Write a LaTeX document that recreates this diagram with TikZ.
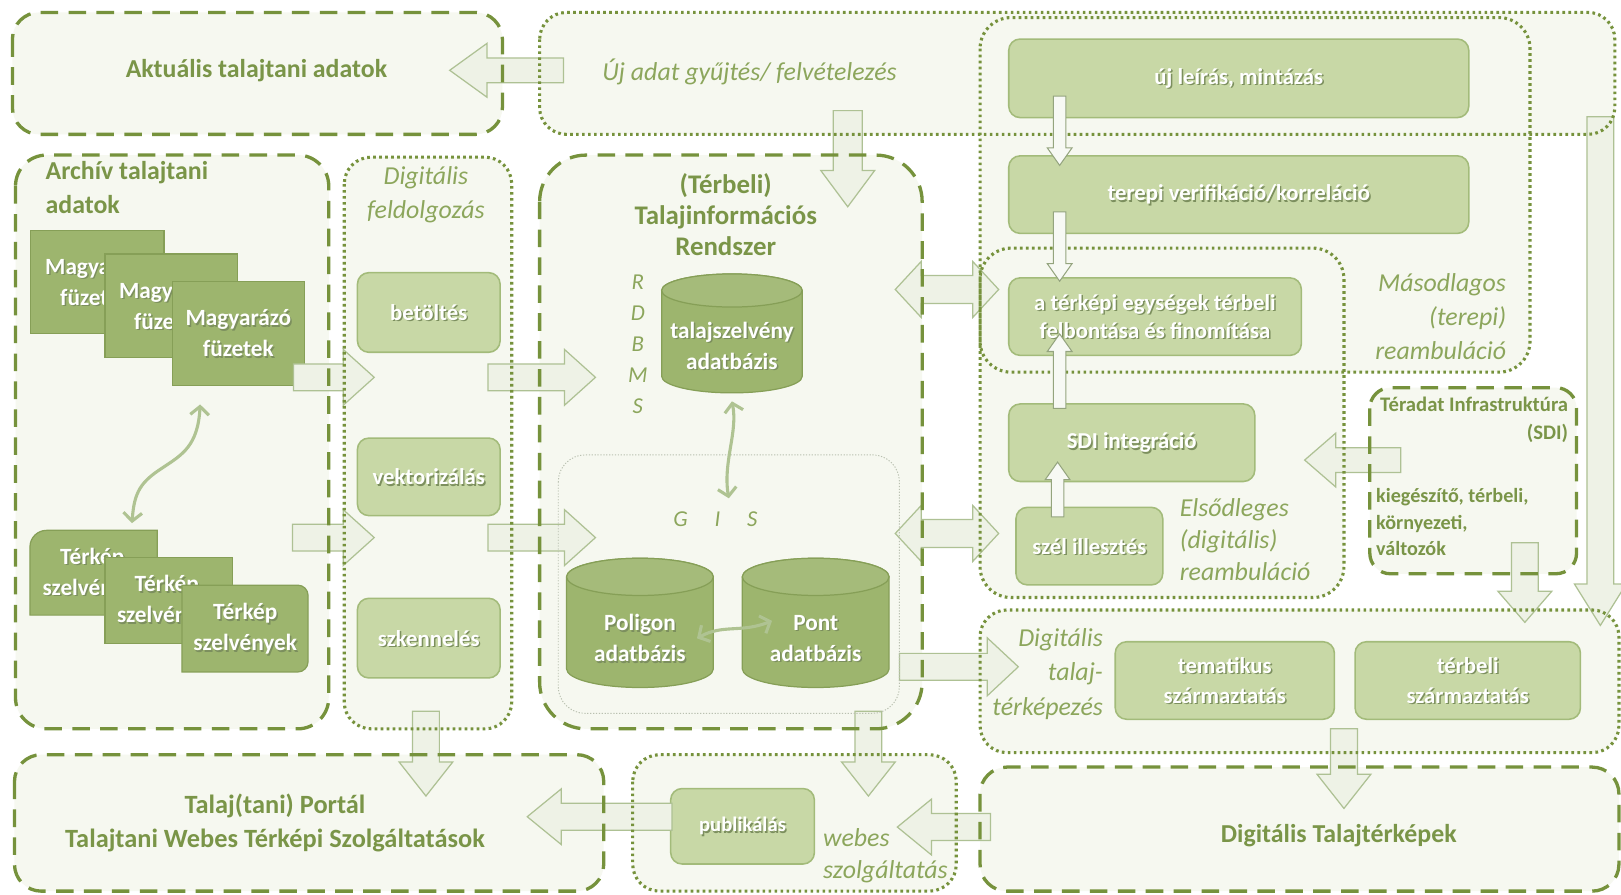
\documentclass[tikz,border=0pt]{standalone}
\usepackage{fontspec}
\setmainfont{Carlito}
\usetikzlibrary{arrows.meta}
\definecolor{dk}{HTML}{76923C}
\definecolor{ttl}{HTML}{7A9548}
\definecolor{itl}{HTML}{8CA65C}
\definecolor{bgc}{HTML}{FFFFFF}
\definecolor{cf}{HTML}{F6F8F0}
\definecolor{lbf}{HTML}{C8D8A6}
\definecolor{lbd}{HTML}{A3BB7A}
\definecolor{dbf}{HTML}{9DB56E}
\definecolor{dbd}{HTML}{869F57}
\definecolor{af}{HTML}{EEF2E6}
\definecolor{ad}{HTML}{AEC194}
\definecolor{cv}{HTML}{AFC392}
\definecolor{shd}{HTML}{7C8F5E}
\definecolor{gisd}{HTML}{B9C0B0}
\newcommand\region[6]{\node[fill=cf,inner sep=0,outer sep=0,rounded corners=#6,anchor=north west,minimum width={#4-#2},minimum height={#5-#3}] (#1) at (#2,#3) {};}
\newcommand\bx[6]{\node[#6,anchor=north west,minimum width={#4-#2},minimum height={#5-#3}] (#1) at (#2,#3) {};}
\newcommand\wtxt[4][]{%
 \node[wlab,text=shd,#1] (#2s) at ([shift={(1.4pt,-1.4pt)}]#3) {#4};
 \node[wlab,#1] (#2) at (#3) {#4};}
\newcommand\btxt[4]{% name x baseline-y text (partly hidden back-box words)
 \node[wlab,dlab,text=shd,anchor=base west] (#1s) at ([shift={(1.4pt,-1.4pt)}]#2,#3) {#4};
 \node[wlab,dlab,anchor=base west] (#1) at (#2,#3) {#4};}
\newcommand\harr[7]{%
 \pgfmathsetmacro\xb{#2-((#2>#1)?1:-1)*#6}%
 \draw[#7] (#1,#3-#4) -- (\xb,#3-#4) -- (\xb,#3-#5) -- (#2,#3) -- (\xb,#3+#5) -- (\xb,#3+#4) -- (#1,#3+#4) -- cycle;}
\newcommand\varr[7]{%
 \pgfmathsetmacro\yb{#3-((#3>#2)?1:-1)*#6}%
 \draw[#7] (#1-#4,#2) -- (#1-#4,\yb) -- (#1-#5,\yb) -- (#1,#3) -- (#1+#5,\yb) -- (#1+#4,\yb) -- (#1+#4,#2) -- cycle;}
\newcommand\dharr[7]{%
 \draw[#7] (#1,#3) -- (#1+#6,#3-#5) -- (#1+#6,#3-#4) -- (#2-#6,#3-#4) -- (#2-#6,#3-#5) -- (#2,#3) -- (#2-#6,#3+#5) -- (#2-#6,#3+#4) -- (#1+#6,#3+#4) -- (#1+#6,#3+#5) -- cycle;}
\newcommand\cyl[7]{% name x1 y1 x2 y2 ry text-shift
 \pgfmathsetmacro\cx{(#2+#4)/2}\pgfmathsetmacro\rx{(#4-#2)/2}%
 \draw[fill=dbf,draw=dbd,line width=1.2pt] (#2,#3+#6) -- (#2,#5-#6) arc[start angle=180,end angle=0,x radius=\rx,y radius=#6] -- (#4,#3+#6) arc[start angle=0,end angle=-180,x radius=\rx,y radius=#6] -- cycle;
 \draw[fill=dbf!92!white,draw=dbd,line width=1.2pt] (\cx,#3+#6) ellipse[x radius=\rx,y radius=#6];
 \node[inner sep=0,minimum width={#4-#2},minimum height={#5-#3}] (#1) at (\cx,{(#3+#5)/2}) {};
 \coordinate (#1t) at ([shift={(0,#7)}]#1.center);}
\begin{document}
\begin{tikzpicture}[x=1pt,y=-1pt,
 dashbox/.style={draw=dk,line width=3.2pt,dash pattern=on 17pt off 10pt,rounded corners=26pt},
 dotbox/.style={draw=dk,line width=3pt,dash pattern=on 2.6pt off 3.2pt,rounded corners=26pt},
 gisbox/.style={draw=gisd,line width=0.9pt,dash pattern=on 1.2pt off 1.6pt,rounded corners=26pt},
 lbox/.style={fill=lbf,draw=lbd,line width=1.5pt,rounded corners=11pt,inner sep=0},
 dbox/.style={fill=dbf,draw=dbd,line width=1.2pt,inner sep=0},
 dshape/.style={fill=dbf,draw=dbd,line width=1.2pt},
 wlab/.style={text=white,font=\bfseries\fontsize{22}{30}\selectfont,inner sep=0,align=center},
 rlab/.style={font=\bfseries\fontsize{22}{30}\selectfont},
 dlab/.style={font=\bfseries\fontsize{22.5}{30}\selectfont},
 ttlt/.style={text=ttl,font=\bfseries\fontsize{25}{33}\selectfont,inner sep=0,align=center},
 itlt/.style={text=itl,font=\itshape\fontsize{25}{32}\selectfont,inner sep=0},
 barrow/.style={fill=af,draw=ad,line width=1.2pt},
 sarrow/.style={fill=white!55!af,draw=ad!85!black,line width=1pt},
 curvy/.style={draw=cv,line width=3pt,arrows={Straight Barb[length=8pt,width=18pt]-Straight Barb[length=8pt,width=18pt]}}]
\useasboundingbox (0,0) rectangle (1568,865);
\fill[bgc] (0,0) rectangle (1568,865);
% ---- region fills
\region{akt}{12}{12}{486}{130}{26}
\region{uj}{522}{12}{1562}{130}{26}
\region{mas}{948}{17}{1480}{360}{30}
\region{els}{948}{240}{1300}{578}{30}
\region{dtt}{948}{590}{1566}{728}{26}
\region{dtk}{948}{742}{1566}{862}{26}
\region{ter}{1325}{375}{1525}{555}{20}
\region{arch}{15}{150}{318}{705}{30}
\region{dfel}{333}{152}{495}{705}{26}
\region{tir}{522}{150}{892}{705}{45}
\region{gis}{540}{440}{870}{690}{26}
\region{portal}{14}{730}{584}{862}{26}
\region{webes}{612}{730}{925}{862}{26}
% ---- inner boxes
\bx{ujl}{975}{37}{1420}{113}{lbox}
\bx{terv}{975}{150}{1420}{225}{lbox}
\bx{terk}{975}{268}{1258}{343}{lbox}
\bx{sdi}{975}{390}{1213}{465}{lbox}
\bx{szel}{982}{490}{1124}{565}{lbox}
\bx{tema}{1078}{620}{1290}{695}{lbox}
\bx{terb}{1310}{620}{1528}{695}{lbox}
\bx{betolt}{345}{263}{483}{340}{lbox}
\bx{vekt}{345}{423}{483}{498}{lbox}
\bx{szken}{345}{578}{483}{655}{lbox}
\bx{publ}{648}{762}{787}{835}{lbox}
\wtxt[rlab]{ujlT}{ujl.center}{új leírás, mintázás}
\wtxt[rlab]{tervT}{terv.center}{terepi verifikáció/korreláció}
\wtxt[rlab,font=\bfseries\fontsize{22}{27}\selectfont]{terkT}{terk.center}{a térképi egységek térbeli\\felbontása és finomítása}
\wtxt[rlab]{sdiT}{sdi.center}{SDI integráció}
\wtxt[rlab]{szelT}{szel.center}{szél illesztés}
\wtxt[rlab,font=\bfseries\fontsize{22}{29}\selectfont]{temaT}{tema.center}{tematikus\\származtatás}
\wtxt[rlab,font=\bfseries\fontsize{22}{29}\selectfont]{terbT}{terb.center}{térbeli\\származtatás}
\wtxt{betoltT}{betolt.center}{betöltés}
\wtxt{vektT}{vekt.center}{vektorizálás}
\wtxt{szkenT}{szken.center}{szkennelés}
\wtxt[font=\bfseries\fontsize{20}{26}\selectfont]{publT}{publ.center}{publikálás}
% document stacks
\bx{mag1}{29}{222}{158}{322}{dbox}
\btxt{mag1a}{43.5}{265.5}{Magya}
\btxt{mag1b}{58}{295.5}{füzet}
\bx{mag2}{101}{245}{229}{345}{dbox}
\btxt{mag2a}{115}{288.5}{Magy}
\btxt{mag2b}{129.5}{318.5}{füze}
\bx{mag3}{166}{272}{294}{372}{dbox}
\wtxt[dlab]{mag3T}{mag3.center}{Magyarázó\\füzetek}
\bx{tk1}{29}{513}{152}{595}{inner sep=0}
\draw[dshape] (29,595) -- (29,529) arc[start angle=180,end angle=270,radius=16] -- (152,513) -- (152,595) -- cycle;
\btxt{tk1a}{58}{546}{Térkép}
\btxt{tk1b}{41}{576}{szelvén}
\bx{tk2}{101}{539}{224}{622}{dbox}
\btxt{tk2a}{130}{572.5}{Térkép}
\btxt{tk2b}{113}{602.5}{szelvén}
\bx{tk3}{176}{566}{298}{650}{inner sep=0}
\draw[dshape] (176,566) -- (288,566) arc[start angle=270,end angle=360,radius=10] -- (298,640) arc[start angle=0,end angle=90,radius=10] -- (176,650) -- cycle;
\wtxt[dlab]{tk3T}{tk3.center}{Térkép\\szelvények}
% cylinders
\cyl{talcyl}{640}{265}{776}{380}{16}{12}
\wtxt[dlab]{talT}{talcylt}{talajszelvény\\adatbázis}
\cyl{polcyl}{548}{540}{690}{665}{18}{15}
\wtxt[dlab]{polT}{polcylt}{Poligon\\adatbázis}
\cyl{pontcyl}{718}{540}{860}{665}{18}{15}
\wtxt[dlab]{pontT}{pontcylt}{Pont\\adatbázis}
% ---- block arrows
\harr{545}{435}{68}{12}{26}{36}{barrow}
\varr{820}{107}{200}{14}{26}{35}{barrow}
\harr{284}{362}{365}{13}{27}{30}{barrow}
\harr{283}{362}{520}{13}{27}{30}{barrow}
\harr{472}{576}{365}{13}{27}{30}{barrow}
\harr{472}{576}{520}{13}{27}{30}{barrow}
\dharr{866}{966}{280}{13.5}{27}{25}{barrow}
\dharr{866}{966}{516}{13.5}{27}{25}{barrow}
\harr{870}{985}{645}{13}{28}{30}{barrow}
\harr{1355}{1262}{445}{12}{26}{30}{barrow}
\varr{1475}{525}{602}{13}{26}{30}{barrow}
\varr{1548}{113}{605}{13}{25}{40}{barrow}
\varr{412}{688}{770}{13}{26}{33}{barrow}
\varr{840}{688}{770}{13}{26}{33}{barrow}
\harr{650}{510}{790}{13}{27}{33}{barrow}
\harr{958}{868}{800}{13}{27}{33}{barrow}
\varr{1300}{705}{782}{13}{26}{33}{barrow}
% ---- region borders
\draw[dashbox] (akt.north west) rectangle (akt.south east);
\draw[dotbox] (uj.north west) rectangle (uj.south east);
\draw[dotbox,rounded corners=30pt] (mas.north west) rectangle (mas.south east);
\draw[dotbox,rounded corners=30pt] (els.north west) rectangle (els.south east);
\draw[dotbox] (dtt.north west) rectangle (dtt.south east);
\draw[dashbox] (dtk.north west) rectangle (dtk.south east);
\draw[dashbox,rounded corners=20pt] (ter.north west) rectangle (ter.south east);
\draw[dashbox,rounded corners=30pt] (arch.north west) rectangle (arch.south east);
\draw[dotbox] (dfel.north west) rectangle (dfel.south east);
\draw[dashbox,rounded corners=45pt] (tir.north west) rectangle (tir.south east);
\draw[gisbox] (gis.north west) rectangle (gis.south east);
\draw[dashbox] (portal.north west) rectangle (portal.south east);
\draw[dotbox] (webes.north west) rectangle (webes.south east);
% ---- small arrows
\varr{1025}{93}{160}{6}{12}{17}{sarrow}
\varr{1025}{205}{272}{6}{12}{17}{sarrow}
\varr{1025}{395}{323}{6}{12}{17}{sarrow}
\varr{1023}{500}{447}{6}{12}{17}{sarrow}
% ---- curvy arrows
\coordinate (archmid) at (158,452);
\draw[curvy] ([shift={(-37,18)}]mag3.south) .. controls +(-2,40) and +(18,-12) .. (archmid) .. controls +(-22,14) and +(2,-30) .. ([shift={(37,-7)}]tk1.north);
\draw[curvy] ([shift={(0,8)}]talcyl.south) .. controls +(6,30) and +(-6,-35) .. ([shift={(0,42)}]gis.north);
\draw[curvy] ([shift={(-16,15)}]polcyl.east) .. controls +(25,-14) and +(-30,12) .. ([shift={(29,-2)}]pontcyl.west);
% ---- region titles
\node[ttlt] (aktT) at (248,68) {Aktuális talajtani adatok};
\node[itlt] (ujT) at (725,70) {Új adat gyűjtés/ felvételezés};
\node[ttlt,align=left,anchor=north west] (archT) at (44,156) {Archív talajtani\\adatok};
\node[itlt,align=center,font=\itshape\fontsize{25}{33}\selectfont] (dfelT) at (412,188) {Digitális\\feldolgozás};
\node[ttlt,font=\bfseries\fontsize{26}{30}\selectfont] (tirT) at (702,208) {(Térbeli)\\Talajinformációs\\Rendszer};
\node[itlt,align=center,font=\itshape\fontsize{22}{30}\selectfont] (rdbms) at (617,333) {R\\D\\B\\M\\S};
\node[itlt,font=\itshape\fontsize{22}{30}\selectfont] (gisT) at (692,502) {G\hskip 26pt I\hskip 26pt S};
\node[itlt,align=right,anchor=east,font=\itshape\fontsize{25}{33}\selectfont] (masT) at (1457,306) {Másodlagos\\(terepi)\\reambuláció};
\node[itlt,align=left,anchor=west,font=\itshape\fontsize{25}{31}\selectfont] (elsT) at (1141,522) {Elsődleges\\(digitális)\\reambuláció};
\node[ttlt,align=right,anchor=north east,font=\bfseries\fontsize{20}{27}\selectfont] (terT) at (1517,384) {Téradat Infrastruktúra\\(SDI)};
\node[ttlt,align=left,anchor=west,font=\bfseries\fontsize{19.5}{26}\selectfont] (terT2) at (1331,505) {kiegészítő, térbeli,\\környezeti,\\változók};
\node[itlt,align=right,anchor=east,font=\itshape\fontsize{25}{33}\selectfont] (dttT) at (1067,652) {Digitális\\talaj-\\térképezés};
\node[ttlt] (dtkT) at (1295,808) {Digitális Talajtérképek};
\node[ttlt,font=\bfseries\fontsize{25.5}{32}\selectfont] (portT) at (266,796) {Talaj(tani) Portál\\Talajtani Webes Térképi Szolgáltatások};
\node[itlt,align=left,anchor=west,font=\itshape\fontsize{25}{31}\selectfont] (webT) at (796,828) {webes\\szolgáltatás};
\end{tikzpicture}
\end{document}
